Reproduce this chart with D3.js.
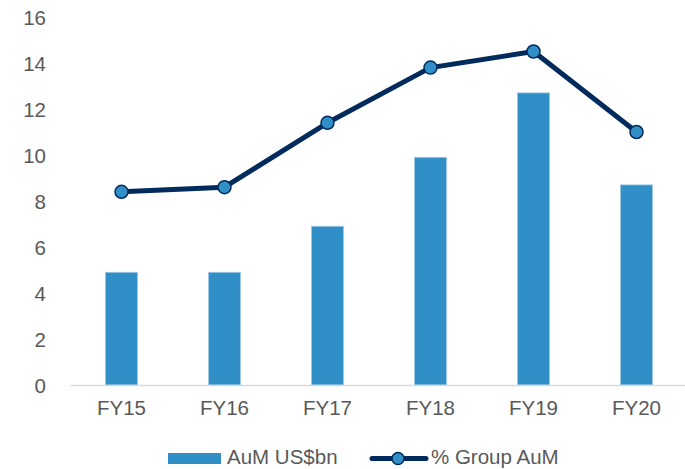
<!DOCTYPE html>
<html lang="en">
<head>
    <meta charset="UTF-8">
    <title>AuM chart</title>
    <script src="https://d3js.org/d3.v7.min.js"></script>
    <style>
        body { margin: 0; background: #fff; }
        svg text { font-family: "Liberation Sans", Arial, sans-serif; fill: #595959; }
    </style>
</head>
<body>
    <div id="chart"></div>
    <script>
        // Dados
        const years = ["FY15", "FY16", "FY17", "FY18", "FY19", "FY20"];
        const aum = [4.9, 4.9, 6.9, 9.9, 12.7, 8.7];
        const groupShare = [8.4, 8.6, 11.4, 13.8, 14.5, 11.0];
        const yTicks = [0, 2, 4, 6, 8, 10, 12, 14, 16];

        const barColor = "#2f8fc6";
        const lineColor = "#002b5c";

        const W = 685, H = 469;
        const svg = d3.select("#chart").append("svg")
            .attr("width", W)
            .attr("height", H);

        // Escalas
        const x = d3.scaleBand()
            .domain(years)
            .range([70, 688])
            .paddingInner(0.69)
            .paddingOuter(0.345);

        const y = d3.scaleLinear()
            .domain([0, 16])
            .range([385, 17]);

        // Eixo Y (apenas rótulos)
        const yAxis = svg.append("g")
            .attr("transform", "translate(52,0)")
            .call(d3.axisLeft(y).tickValues(yTicks).tickSize(0).tickPadding(6));
        yAxis.select(".domain").remove();
        yAxis.selectAll("text").style("font-size", "20.5px").attr("dy", "0.35em");

        // Barras
        svg.selectAll(".bar")
            .data(aum)
            .enter().append("rect")
            .attr("class", "bar")
            .attr("x", (d, i) => x(years[i]))
            .attr("y", d => y(d))
            .attr("width", x.bandwidth())
            .attr("height", d => y(0) - y(d))
            .attr("fill", barColor)
            .attr("stroke", "#9cc8e4")
            .attr("stroke-width", 0.8);

        // Eixo X
        const xAxis = svg.append("g")
            .attr("transform", `translate(0,${y(0)})`)
            .call(d3.axisBottom(x).tickSize(0).tickPadding(15));
        xAxis.select(".domain").attr("stroke", "#d9d9d9").attr("stroke-width", 1.5);
        xAxis.selectAll("text").style("font-size", "20.5px");

        // Linha
        const line = d3.line()
            .x((d, i) => x(years[i]) + x.bandwidth() / 2)
            .y(d => y(d));

        svg.append("path")
            .datum(groupShare)
            .attr("d", line)
            .attr("fill", "none")
            .attr("stroke", lineColor)
            .attr("stroke-width", 5)
            .attr("stroke-linejoin", "round");

        svg.selectAll(".dot")
            .data(groupShare)
            .enter().append("circle")
            .attr("class", "dot")
            .attr("cx", (d, i) => x(years[i]) + x.bandwidth() / 2)
            .attr("cy", d => y(d))
            .attr("r", 6.5)
            .attr("fill", barColor)
            .attr("stroke", lineColor)
            .attr("stroke-width", 1.5);

        // Legenda
        const legend = svg.append("g");
        legend.append("rect")
            .attr("x", 168).attr("y", 453)
            .attr("width", 53).attr("height", 11)
            .attr("fill", barColor);
        legend.append("text")
            .attr("x", 227).attr("y", 464)
            .style("font-size", "20.5px")
            .text("AuM US$bn");
        legend.append("line")
            .attr("x1", 372).attr("x2", 426)
            .attr("y1", 458.5).attr("y2", 458.5)
            .attr("stroke", lineColor)
            .attr("stroke-width", 5)
            .attr("stroke-linecap", "round");
        legend.append("circle")
            .attr("cx", 398).attr("cy", 458.5).attr("r", 6)
            .attr("fill", barColor)
            .attr("stroke", lineColor)
            .attr("stroke-width", 1.5);
        legend.append("text")
            .attr("x", 431).attr("y", 464)
            .style("font-size", "20.5px")
            .text("% Group AuM");
    </script>
</body>
</html>
